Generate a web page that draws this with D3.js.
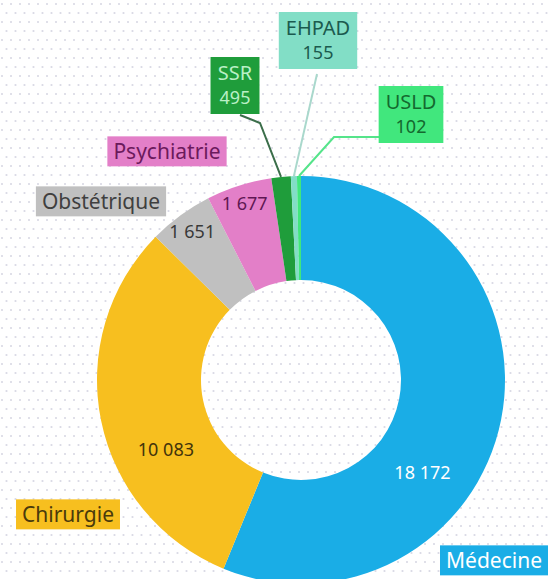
<!DOCTYPE html>
<html>
<head>
<meta charset="utf-8">
<script src="https://cdn.jsdelivr.net/npm/d3@7"></script>
<style>
  html, body { margin: 0; padding: 0; background: #fff; }
  svg { display: block; font-family: "Noto Sans", sans-serif; }
</style>
</head>
<body>
<div id="chart"></div>
<script>
// Hospital stays by discipline
const categories = ['Médecine', 'Chirurgie', 'Obstétrique', 'Psychiatrie', 'SSR', 'EHPAD', 'USLD'];
const values = [18172, 10083, 1651, 1677, 495, 155, 102];
const valueLabels = ['18 172', '10 083', '1 651', '1 677', '495', '155', '102'];
const sliceColors = ['#1aade6', '#f7bf1f', '#c0c0c0', '#e37fc8', '#1f9d3b', '#82dec6', '#41e77d'];
const textColors = ['#ffffff', '#4a3a0c', '#3f3f3f', '#6b1a5c', '#baf0c6', '#1b5a4e', '#14692f'];

const width = 550, height = 579;
const cx = 301, cy = 380, outerR = 204, innerR = 100;

const svg = d3.select('#chart').append('svg')
    .attr('width', width)
    .attr('height', height);

// dotted background
const pattern = svg.append('defs').append('pattern')
    .attr('id', 'dots')
    .attr('width', 9)
    .attr('height', 18)
    .attr('patternUnits', 'userSpaceOnUse');
pattern.append('circle').attr('cx', 2).attr('cy', 4).attr('r', 1.1).attr('fill', '#d9d9e4');
pattern.append('circle').attr('cx', 6.5).attr('cy', 13).attr('r', 1.1).attr('fill', '#d9d9e4');
svg.append('rect').attr('width', width).attr('height', height).attr('fill', 'url(#dots)');

const data = categories.map((c, i) => ({
    name: c, value: values[i], label: valueLabels[i],
    color: sliceColors[i], text: textColors[i]
}));

const pie = d3.pie().sort(null).value(d => d.value);
const arcs = pie(data);
const arc = d3.arc().innerRadius(innerR).outerRadius(outerR);

const g = svg.append('g').attr('transform', `translate(${cx},${cy})`);

g.selectAll('path.slice')
    .data(arcs)
    .join('path')
    .attr('class', 'slice')
    .attr('d', arc)
    .attr('fill', d => d.data.color);

// value labels inside the ring (big slices), frac = where along the slice
const inside = {
    'Médecine': { frac: 0.63, r: 153 },
    'Chirurgie': { frac: 0.36, r: 152 },
    'Obstétrique': { frac: 0.5, r: 184 },
    'Psychiatrie': { frac: 0.5, r: 185 }
};
arcs.forEach(a => {
    const p = inside[a.data.name];
    if (!p) return;
    const ang = a.startAngle + (a.endAngle - a.startAngle) * p.frac;
    g.append('text')
        .attr('x', p.r * Math.sin(ang))
        .attr('y', -p.r * Math.cos(ang))
        .attr('text-anchor', 'middle')
        .attr('dy', '0.35em')
        .style('font-size', '18px')
        .style('fill', d3.color(a.data.text).darker(a.data.name === 'Médecine' ? 0 : 0.3))
        .text(a.data.label);
});

// category label boxes
const boxes = {
    'Médecine': { x: 494, y: 561, two: false },
    'Chirurgie': { x: 68, y: 515, two: false },
    'Obstétrique': { x: 101, y: 202, two: false },
    'Psychiatrie': { x: 167, y: 152, two: false },
    'SSR': { x: 235, y: 85, two: true },
    'EHPAD': { x: 318, y: 40, two: true },
    'USLD': { x: 411, y: 114, two: true }
};

// leader lines for the small slices
const leaders = {
    'SSR': { pts: [[240, 115], [260, 123]], color: '#3b6e4a' },
    'EHPAD': { pts: [[317, 74]], color: '#a9d8cc' },
    'USLD': { pts: [[380, 137], [334, 137]], color: '#55e48a' }
};
arcs.forEach(a => {
    const l = leaders[a.data.name];
    if (!l) return;
    const mid = (a.startAngle + a.endAngle) / 2;
    const end = [cx + outerR * Math.sin(mid), cy - outerR * Math.cos(mid)];
    svg.append('path')
        .attr('d', d3.line()([...l.pts, end]))
        .attr('fill', 'none')
        .attr('stroke', l.color)
        .attr('stroke-width', 2);
});

data.forEach(d => {
    const b = boxes[d.name];
    const lg = svg.append('g');
    const rect = lg.append('rect').attr('fill', d.color);
    if (b.two) {
        // two separate lines: name then value
        const t1 = lg.append('text')
            .attr('x', b.x).attr('y', b.y - 5)
            .attr('text-anchor', 'middle')
            .style('font-size', '20px')
            .style('fill', d.text)
            .text(d.name);
        const t2 = lg.append('text')
            .attr('x', b.x).attr('y', b.y + 19)
            .attr('text-anchor', 'middle')
            .style('font-size', '18px')
            .style('fill', d.text)
            .text(d.label);
        const w = Math.max(t1.node().getBBox().width, t2.node().getBBox().width);
        rect.attr('x', b.x - w / 2 - 7).attr('y', b.y - 28)
            .attr('width', w + 14).attr('height', 57);
    } else {
        const t = lg.append('text')
            .attr('x', b.x).attr('y', b.y)
            .attr('dy', '0.35em')
            .attr('text-anchor', 'middle')
            .style('font-size', '21px')
            .style('fill', d.text)
            .text(d.name);
        const bb = t.node().getBBox();
        rect.attr('x', bb.x - 6).attr('y', bb.y - 1)
            .attr('width', bb.width + 12).attr('height', bb.height + 2);
    }
});
</script>
</body>
</html>
